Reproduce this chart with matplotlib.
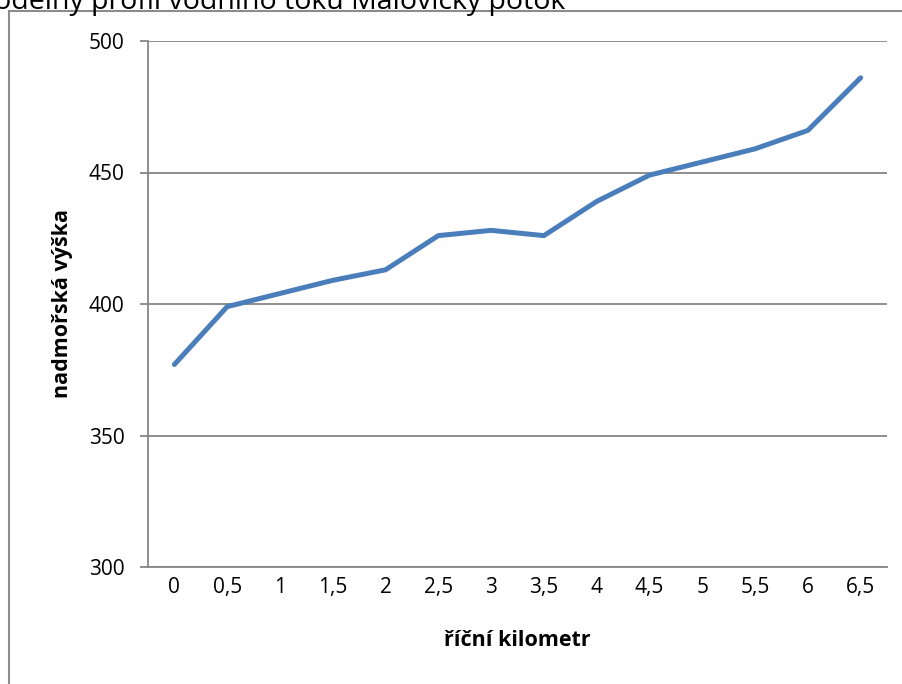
import matplotlib
matplotlib.use("Agg")
from matplotlib import pyplot as plt
from matplotlib.patches import Rectangle

# River kilometre vs. altitude
km_labels = ["0", "0,5", "1", "1,5", "2", "2,5", "3", "3,5", "4", "4,5", "5", "5,5", "6", "6,5"]
altitude = [377, 399, 404, 409, 413, 426, 428, 426, 439, 449, 454, 459, 466, 486]
y_ticks = [300, 350, 400, 450, 500]

title = "Podélný profil vodního toku Malovický potok"
x_label = "říční kilometr"
y_label = "nadmořská výška"

W, H = 902, 684
fig = plt.figure(figsize=(W / 100, H / 100), dpi=100)

# axes placed in pixel terms of the reference
left, right, top, bottom = 148, 887, 41, 567
ax = fig.add_axes([left / W, 1 - bottom / H, (right - left) / W, (bottom - top) / H])

grey = "#868686"
sans = ["Open Sans", "DejaVu Sans"]

x = list(range(len(km_labels)))
ax.plot(x, altitude, color="#4A7EBB", lw=3.6, solid_capstyle="round", solid_joinstyle="round", zorder=3)

ax.set_xlim(-0.5, len(km_labels) - 0.5)
ax.set_ylim(300, 500)
ax.set_yticks(y_ticks)
ax.set_xticks(x)
ax.set_xticklabels(km_labels, fontsize=15, family=sans)
for lab in ax.get_yticklabels():
    lab.set_family(sans)
    lab.set_fontsize(15)

ax.grid(axis="y", color=grey, lw=1.3)
ax.set_axisbelow(True)
for s in ("top", "right"):
    ax.spines[s].set_visible(False)
for s in ("left", "bottom"):
    ax.spines[s].set_color(grey)
    ax.spines[s].set_linewidth(1.3)

ax.tick_params(axis="y", length=6, width=1.3, color=grey, pad=11)
ax.tick_params(axis="x", length=0, pad=7)

ax.set_xlabel(x_label, fontsize=15.5, fontweight="bold", family=sans, labelpad=23)
ax.set_ylabel(y_label, fontsize=15.5, fontweight="bold", family=sans, labelpad=11)

# outer chart frame, only top and left edges are inside the picture
fig.add_artist(Rectangle((9 / W, -0.1), 1.2, 1 - 11 / H + 0.1, transform=fig.transFigure,
                         fill=False, edgecolor="#8c8c8c", lw=1.5, clip_on=False))

# title is clipped by the top edge in the reference
fig.text(565 / W, 1 - 9 / H, title, ha="right", va="baseline", fontsize=20.5,
         family=sans)

fig.savefig("out.png", dpi=100)
